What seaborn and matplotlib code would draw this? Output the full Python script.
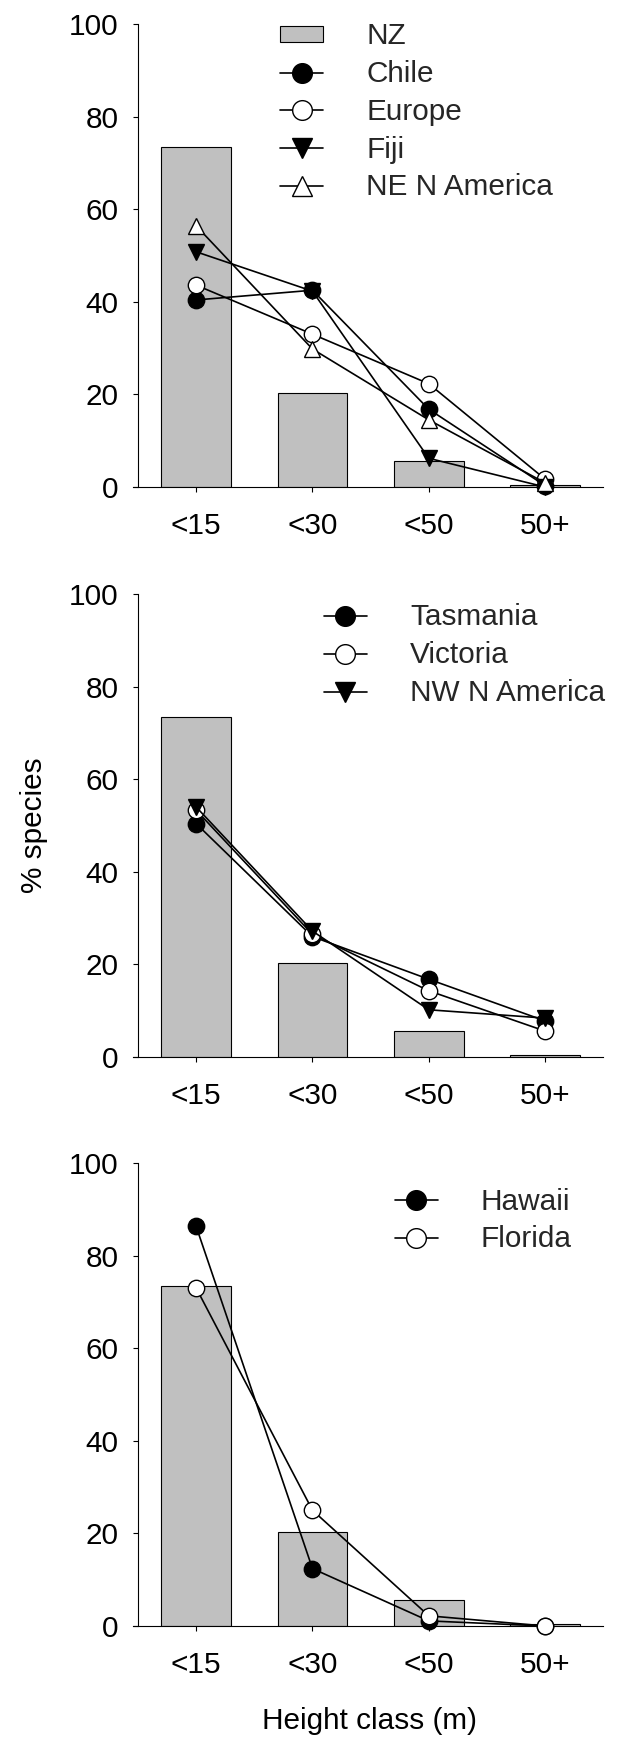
import matplotlib
matplotlib.use("Agg")
import matplotlib.pyplot as plt
import seaborn as sns

# Height classes and the New Zealand reference distribution (% of species)
height_classes = ["<15", "<30", "<50", "50+"]
nz = [73.5, 20.4, 5.6, 0.5]

# Panel 1 regions
chile = [40.4, 42.5, 16.8, 0.3]
europe = [43.6, 33.0, 22.3, 1.7]
fiji = [50.8, 42.3, 6.2, 0.0]
ne_america = [56.4, 29.8, 14.5, 0.9]

# Panel 2 regions
tasmania = [50.4, 26.0, 16.8, 7.8]
victoria = [53.3, 26.5, 14.3, 5.6]
nw_america = [54.0, 27.2, 10.2, 8.4]

# Panel 3 regions
hawaii = [86.3, 12.4, 1.1, 0.0]
florida = [73.0, 25.0, 2.2, 0.0]

FILLED_CIRCLE = dict(marker="o", mfc="black")
OPEN_CIRCLE = dict(marker="o", mfc="white")
FILLED_DOWN = dict(marker="v", mfc="black")
OPEN_UP = dict(marker="^", mfc="white")

panels = [
    ([("Chile", chile, FILLED_CIRCLE), ("Europe", europe, OPEN_CIRCLE),
      ("Fiji", fiji, FILLED_DOWN), ("NE N America", ne_america, OPEN_UP)],
     True, (0.3128, 1.004)),
    ([("Tasmania", tasmania, FILLED_CIRCLE), ("Victoria", victoria, OPEN_CIRCLE),
      ("NW N America", nw_america, FILLED_DOWN)],
     False, (0.406, 0.9795)),
    ([("Hawaii", hawaii, FILLED_CIRCLE), ("Florida", florida, OPEN_CIRCLE)],
     False, (0.557, 0.947)),
]

sns.set_theme(style="ticks")
plt.rcParams["font.family"] = ["Liberation Sans", "DejaVu Sans"]
plt.rcParams["axes.linewidth"] = 0.8

FS = 21.4
W, H = 619, 1738
fig = plt.figure(figsize=(W / 100, H / 100), dpi=100)

ax_left = 133 / W
ax_width = 470 / W
ax_height = 463 / H
bottoms_px = [487, 1057, 1626]

axes = []
for i, (series, show_nz_legend, anchor) in enumerate(panels):
    ax = fig.add_axes([ax_left, 1 - bottoms_px[i] / H, ax_width, ax_height])
    axes.append(ax)

    sns.barplot(x=height_classes, y=nz, color="#c0c0c0", saturation=1,
                edgecolor="black", linewidth=0.8, width=0.6, ax=ax, zorder=1)
    bar_handle = ax.containers[0]

    handles, labels = [], []
    if show_nz_legend:
        handles.append(bar_handle)
        labels.append("NZ")

    for name, values, style in series:
        sns.pointplot(x=height_classes, y=values, color="black",
                      markers=style["marker"], linestyles="-", errorbar=None,
                      ax=ax, markersize=11.8, markerfacecolor=style["mfc"],
                      markeredgecolor="black", markeredgewidth=1.0,
                      linewidth=1.2, clip_on=False, zorder=3)
        handles.append(ax.lines[-1])
        labels.append(name)

    ax.set_ylim(0, 100)
    ax.set_xlim(-0.543, 3.498)
    ax.set_yticks([0, 20, 40, 60, 80, 100])
    ax.spines["top"].set_visible(False)
    ax.spines["right"].set_visible(False)
    ax.spines["left"].set_position(("data", -0.5))
    ax.spines["left"].set_color("black")
    ax.spines["bottom"].set_color("black")
    ax.tick_params(axis="both", direction="out", length=3.6, width=0.8,
                   color="black", labelsize=FS, labelcolor="black")
    ax.tick_params(axis="y", pad=10.5)
    ax.tick_params(axis="x", pad=14.5)
    ax.set_xlabel("")
    ax.set_ylabel("")
    ax.grid(False)

    ax.legend(handles, labels, loc="upper left", bbox_to_anchor=anchor,
              frameon=False, fontsize=FS, borderpad=0, borderaxespad=0,
              handlelength=1.45, handleheight=0.45, handletextpad=1.45,
              labelspacing=0.33, markerscale=1.2, numpoints=1)

axes[1].set_ylabel("% species", fontsize=FS, color="black", va="center")
axes[1].yaxis.set_label_coords(-0.21, 0.5)
axes[2].set_xlabel("Height class (m)", fontsize=FS, color="black", va="top")
axes[2].xaxis.set_label_coords(0.5 + 2 / 470, -0.176)

fig.savefig("out.png", dpi=100, facecolor="white")
